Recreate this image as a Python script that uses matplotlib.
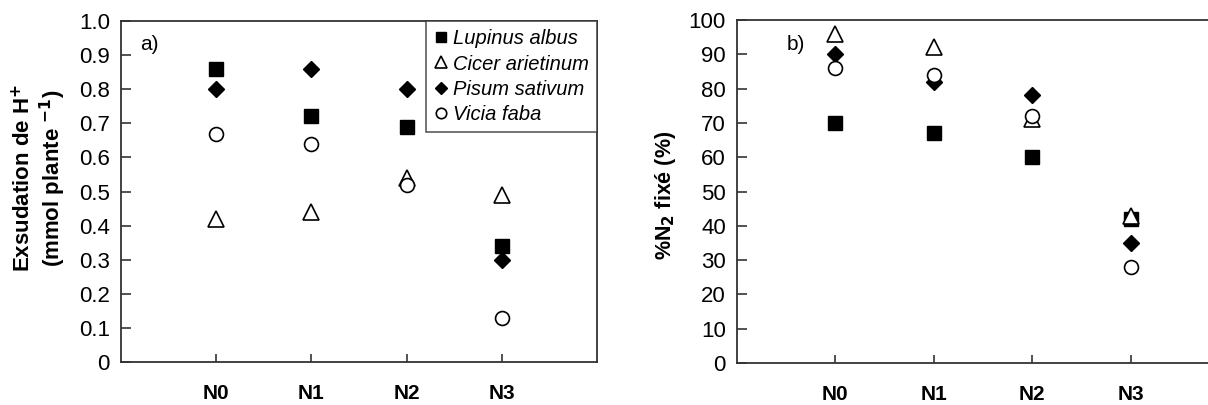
import matplotlib
matplotlib.use("Agg")
import matplotlib.pyplot as plt
from matplotlib.lines import Line2D

plt.rcParams['font.family'] = ['Liberation Sans', 'DejaVu Sans']

# Nitrogen treatments
treatments = ["N0", "N1", "N2", "N3"]
species = ["Lupinus albus", "Cicer arietinum", "Pisum sativum", "Vicia faba"]

# a) H+ exudation (mmol plant^-1)
exud_lupinus = [0.86, 0.72, 0.69, 0.34]
exud_cicer = [0.42, 0.44, 0.54, 0.49]
exud_pisum = [0.80, 0.86, 0.80, 0.30]
exud_vicia = [0.67, 0.64, 0.52, 0.13]

# b) % N2 fixed
fix_lupinus = [70, 67, 60, 42]
fix_cicer = [96, 92, 71, 43]
fix_pisum = [90, 82, 78, 35]
fix_vicia = [86, 84, 72, 28]

yticks_a = [0, 0.1, 0.2, 0.3, 0.4, 0.5, 0.6, 0.7, 0.8, 0.9, 1.0]
ytick_labels_a = ["0", "0.1", "0.2", "0.3", "0.4", "0.5", "0.6", "0.7", "0.8", "0.9", "1.0"]
yticks_b = [0, 10, 20, 30, 40, 50, 60, 70, 80, 90, 100]

styles = [
    dict(marker="s", markersize=10, markerfacecolor="black", markeredgecolor="black"),
    dict(marker="^", markersize=11, markerfacecolor="white", markeredgecolor="black", markeredgewidth=1.2),
    dict(marker="D", markersize=8, markerfacecolor="black", markeredgecolor="black"),
    dict(marker="o", markersize=10, markerfacecolor="white", markeredgecolor="black", markeredgewidth=1.2),
]

W, H = 1208, 405
fig = plt.figure(figsize=(W / 100, H / 100), dpi=100)

ax_a = fig.add_axes([121 / W, 1 - 362 / H, (597 - 121) / W, (362 - 21) / H])
ax_b = fig.add_axes([737 / W, 1 - 363 / H, 492 / W, (363 - 20) / H])

x = list(range(len(treatments)))
spine_col = "#333333"


def style_axes(ax, yticks, ylabels, ylim):
    ax.set_xlim(-1, 4)
    ax.set_ylim(*ylim)
    ax.set_xticks(x)
    ax.set_xticklabels(treatments, fontsize=15, fontweight="bold")
    ax.set_yticks(yticks)
    ax.set_yticklabels(ylabels, fontsize=16)
    ax.tick_params(axis="y", direction="in", length=7, width=1.2, color=spine_col, pad=8)
    ax.tick_params(axis="x", direction="in", length=6, width=1.2, color=spine_col, pad=16)
    for s in ax.spines.values():
        s.set_color(spine_col)
        s.set_linewidth(1.3)


series_a = [exud_lupinus, exud_cicer, exud_pisum, exud_vicia]
for vals, st in zip(series_a, styles):
    ax_a.plot(x, vals, linestyle="none", clip_on=False, **st)
style_axes(ax_a, yticks_a, ytick_labels_a, (0, 1.0))
ax_a.set_ylabel("Exsudation de H$^{\\mathbf{+}}$\n(mmol plante $^{\\mathbf{-1}}$)",
                fontsize=16, fontweight="bold", linespacing=1.1, va="center")
ax_a.yaxis.set_label_coords(-0.17, 0.54)
ax_a.text(0.04, 0.93, "a)", transform=ax_a.transAxes, fontsize=15, va="center")

handles = [Line2D([], [], linestyle="none", **dict(st, markersize=st["markersize"] * 0.75))
           for st in styles]
leg = ax_a.legend(handles, species, loc="upper right", borderaxespad=0,
                  prop=dict(family="Liberation Sans", style="italic", size=14.5),
                  frameon=True, fancybox=False, handlelength=0.7, handletextpad=0.25,
                  labelspacing=0.32, borderpad=0.4)
leg.get_frame().set_edgecolor(spine_col)
leg.get_frame().set_linewidth(1.2)

series_b = [fix_lupinus, fix_cicer, fix_pisum, fix_vicia]
for vals, st in zip(series_b, styles):
    ax_b.plot(x, vals, linestyle="none", clip_on=False, **st)
style_axes(ax_b, yticks_b, [str(v) for v in yticks_b], (0, 100))
ax_b.set_ylabel("%N$_{\\mathbf{2}}$ fixé (%)", fontsize=15.5, fontweight="bold", va="center")
ax_b.yaxis.set_label_coords(-0.146, 0.49)
ax_b.text(0.1, 0.93, "b)", transform=ax_b.transAxes, fontsize=15, va="center")

fig.savefig("out.png", dpi=100)
